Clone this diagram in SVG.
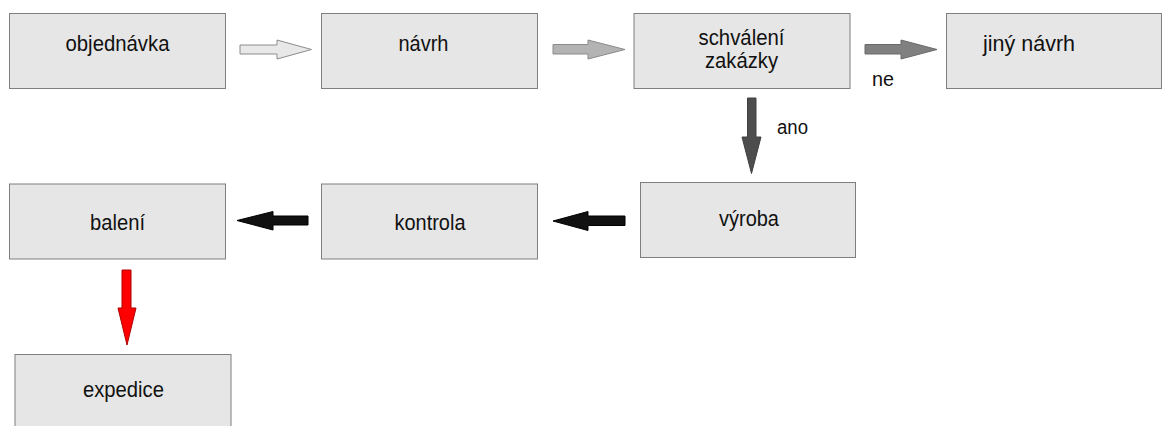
<svg xmlns="http://www.w3.org/2000/svg" width="1163" height="426" viewBox="0 0 1163 426">
  <style>
    .box { fill: #e6e6e6; stroke: #7f7f7f; stroke-width: 1; }
    .lbl { font-family: "Liberation Sans", Arial, sans-serif; font-size: 21.5px; fill: #111; }
    .mid { text-anchor: middle; }
    .edge { font-family: "Liberation Sans", Arial, sans-serif; font-size: 20px; fill: #111; }
    .a-light { fill: #e8e8e8; stroke: #8c8c8c; stroke-width: 1; }
    .a-mid { fill: #b3b3b3; stroke: #8a8a8a; stroke-width: 1; }
    .a-grey { fill: #808080; stroke: #6a6a6a; stroke-width: 1; }
    .a-dark { fill: #4d4d4d; stroke: #404040; stroke-width: 1; }
    .a-black { fill: #111; stroke: #000; stroke-width: 1; }
    .a-red { fill: #ff0000; stroke: #b00000; stroke-width: 1; }
  </style>
  <rect width="1163" height="426" fill="#ffffff"/>

  <!-- block arrows between the steps -->
  <g id="connectors">
    <polygon class="a-light" points="240,45 277,45 277,40 311.5,49.5 277,59 277,54 240,54"/>
    <polygon class="a-mid" points="553,44.5 588,44.5 588,40 625,49.5 588,59 588,54 553,54"/>
    <polygon class="a-grey" points="865,44.5 901,44.5 901,40 937,49.5 901,59 901,54 865,54"/>
    <polygon class="a-dark" points="747.5,98 756,98 756,137 761,137 751.5,173.5 742,137 747.5,137"/>
    <polygon class="a-black" points="625,216 588,216 588,211.5 553,221 588,230.5 588,225.5 625,225.5"/>
    <polygon class="a-black" points="308,216 273,216 273,211.5 237,220.5 273,230 273,225 308,225"/>
    <polygon class="a-red" points="122,270 131,270 131,308 136,308 127,345 118,308 122,308"/>
    <text class="edge" x="872" y="86" textLength="22" lengthAdjust="spacingAndGlyphs">ne</text>
    <text class="edge" x="777" y="134" textLength="31" lengthAdjust="spacingAndGlyphs">ano</text>
  </g>

  <g id="objednavka">
    <rect class="box" x="9.5" y="13.5" width="216" height="75"/>
    <text class="lbl mid" x="117.5" y="51" textLength="104" lengthAdjust="spacingAndGlyphs">objednávka</text>
  </g>
  <g id="navrh">
    <rect class="box" x="321.5" y="13.5" width="216" height="75"/>
    <text class="lbl mid" x="423.5" y="51" textLength="50" lengthAdjust="spacingAndGlyphs">návrh</text>
  </g>
  <g id="schvaleni">
    <rect class="box" x="634" y="13.5" width="216" height="75"/>
    <text class="lbl mid" x="741.5" y="45" textLength="86" lengthAdjust="spacingAndGlyphs">schválení</text>
    <text class="lbl mid" x="741.5" y="68" textLength="73" lengthAdjust="spacingAndGlyphs">zakázky</text>
  </g>
  <g id="jiny-navrh">
    <rect class="box" x="946.5" y="13.5" width="215" height="75"/>
    <text class="lbl" x="983" y="50.5" textLength="92" lengthAdjust="spacingAndGlyphs">jiný návrh</text>
  </g>
  <g id="vyroba">
    <rect class="box" x="640.5" y="182.5" width="215" height="75"/>
    <text class="lbl mid" x="749" y="226" textLength="60" lengthAdjust="spacingAndGlyphs">výroba</text>
  </g>
  <g id="kontrola">
    <rect class="box" x="321.5" y="184" width="216" height="75"/>
    <text class="lbl mid" x="430" y="230" textLength="71" lengthAdjust="spacingAndGlyphs">kontrola</text>
  </g>
  <g id="baleni">
    <rect class="box" x="9.5" y="184" width="216" height="75"/>
    <text class="lbl mid" x="117.5" y="230" textLength="55" lengthAdjust="spacingAndGlyphs">balení</text>
  </g>
  <g id="expedice">
    <rect class="box" x="15" y="354.5" width="216" height="75"/>
    <text class="lbl mid" x="123.5" y="397" textLength="81" lengthAdjust="spacingAndGlyphs">expedice</text>
  </g>
</svg>
